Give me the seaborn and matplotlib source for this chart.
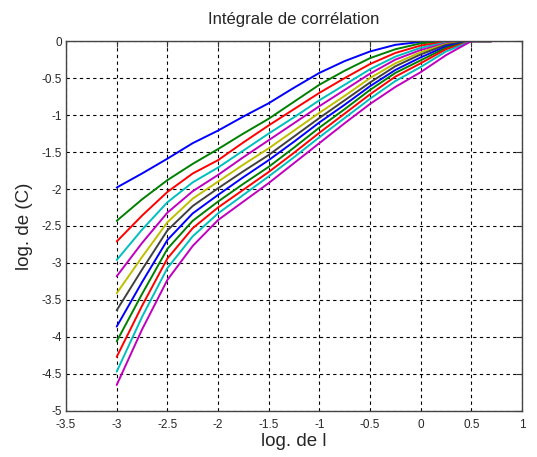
import numpy as np
import pandas as pd
import matplotlib
matplotlib.use("Agg")
import matplotlib.pyplot as plt
import seaborn as sns

log_l = [-3.0, -2.75, -2.5, -2.25, -2.0, -1.75, -1.5, -1.25, -1.0,
         -0.75, -0.5, -0.25, 0.0, 0.25, 0.5, 0.7]

# log. de (C), one list per embedding curve (top to bottom)
c01 = [-1.98, -1.79, -1.59, -1.38, -1.21, -1.02, -0.84, -0.63, -0.43, -0.27, -0.14, -0.05, -0.01, 0.0, 0.0, 0.0]
c02 = [-2.43, -2.14, -1.88, -1.66, -1.46, -1.25, -1.05, -0.82, -0.59, -0.40, -0.23, -0.11, -0.03, 0.0, 0.0, 0.0]
c03 = [-2.71, -2.36, -2.04, -1.79, -1.61, -1.37, -1.14, -0.92, -0.70, -0.50, -0.31, -0.16, -0.06, -0.01, 0.0, 0.0]
c04 = [-2.96, -2.55, -2.18, -1.91, -1.71, -1.48, -1.25, -1.03, -0.80, -0.59, -0.38, -0.21, -0.09, -0.02, 0.0, 0.0]
c05 = [-3.18, -2.73, -2.32, -2.03, -1.81, -1.57, -1.34, -1.11, -0.88, -0.66, -0.44, -0.25, -0.12, -0.03, 0.0, 0.0]
c06 = [-3.41, -2.92, -2.45, -2.13, -1.90, -1.67, -1.45, -1.21, -0.97, -0.74, -0.50, -0.30, -0.15, -0.04, 0.0, 0.0]
c07 = [-3.64, -3.09, -2.56, -2.23, -1.99, -1.76, -1.54, -1.29, -1.04, -0.80, -0.56, -0.34, -0.18, -0.05, 0.0, 0.0]
c08 = [-3.86, -3.26, -2.69, -2.33, -2.08, -1.84, -1.61, -1.36, -1.10, -0.86, -0.61, -0.39, -0.22, -0.07, 0.0, 0.0]
c09 = [-4.06, -3.42, -2.81, -2.43, -2.17, -1.93, -1.70, -1.44, -1.17, -0.92, -0.66, -0.43, -0.26, -0.09, 0.0, 0.0]
c10 = [-4.27, -3.58, -2.94, -2.53, -2.25, -2.01, -1.77, -1.51, -1.24, -0.98, -0.72, -0.48, -0.30, -0.11, 0.0, 0.0]
c11 = [-4.47, -3.73, -3.07, -2.64, -2.33, -2.08, -1.83, -1.57, -1.30, -1.04, -0.78, -0.54, -0.35, -0.14, 0.0, 0.0]
c12 = [-4.65, -3.90, -3.23, -2.77, -2.42, -2.17, -1.92, -1.65, -1.38, -1.11, -0.85, -0.62, -0.42, -0.19, 0.0, 0.0]

curves = [c01, c02, c03, c04, c05, c06, c07, c08, c09, c10, c11, c12]

# old matlab colour order, cycled
matlab_colors = [(0, 0, 1), (0, 0.5, 0), (1, 0, 0), (0, 0.75, 0.75),
                 (0.75, 0, 0.75), (0.75, 0.75, 0), (0.25, 0.25, 0.25)]

x_ticks = [-3.5, -3, -2.5, -2, -1.5, -1, -0.5, 0, 0.5, 1]
y_ticks = [0, -0.5, -1, -1.5, -2, -2.5, -3, -3.5, -4, -4.5, -5]

# long format for seaborn
rows = []
for i, c in enumerate(curves):
    for x, y in zip(log_l, c):
        rows.append((i, x, y))
df = pd.DataFrame(rows, columns=["m", "log_l", "log_c"])

palette = [matlab_colors[i % len(matlab_colors)] for i in range(len(curves))]

sns.set_style("white")
plt.rcParams["font.family"] = ["Liberation Sans", "DejaVu Sans"]

fig = plt.figure(figsize=(5.37, 4.57), dpi=100)
ax = fig.add_axes([0.123, 0.101, 0.849, 0.809])

sns.lineplot(data=df, x="log_l", y="log_c", hue="m", palette=palette,
             estimator=None, sort=False, legend=False, linewidth=1.4, ax=ax)

ax.set_xlim(-3.5, 1)
ax.set_ylim(-5, 0)
ax.set_xticks(x_ticks)
ax.set_yticks(y_ticks)
ax.set_xticklabels([f"{t:g}" for t in x_ticks])
ax.set_yticklabels([f"{t:g}" for t in y_ticks])
ax.tick_params(labelsize=8.5, direction="in", length=4, top=True, right=True,
               color="#333333")
ax.tick_params(axis="x", pad=6)
ax.tick_params(axis="y", pad=3)
ax.grid(True, color="black", linestyle=(0, (3, 3)), linewidth=0.8)
for s in ax.spines.values():
    s.set_color("#444444")
    s.set_linewidth(1.0)

ax.set_title("Intégrale de corrélation", fontsize=12, pad=12)
ax.set_xlabel("log. de l", fontsize=13.5, labelpad=1)
ax.set_ylabel("log. de (C)", fontsize=13.5, labelpad=6)

fig.savefig("out.png", dpi=100, facecolor="white")
